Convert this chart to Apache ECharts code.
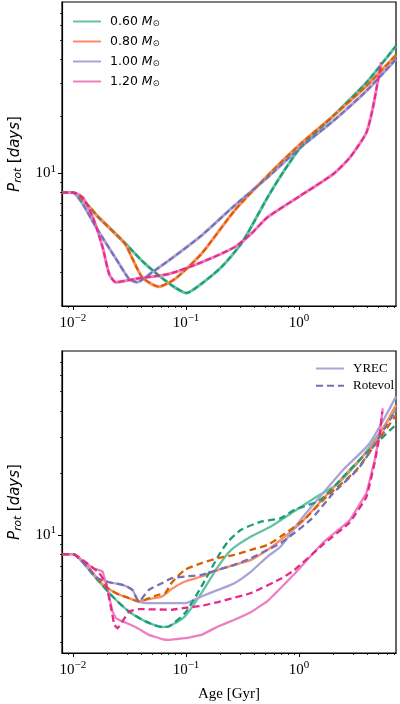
<!DOCTYPE html>
<html>
<head>
    <meta charset="UTF-8">
    <title>Prot vs Age</title>
    <script src="https://cdn.jsdelivr.net/npm/echarts@6/dist/echarts.min.js"></script>
</head>
<body style="margin: 0; background: #fff">
    <div id="container" style="width: 400px; height: 704px"></div>
    <script type="text/javascript">
        // ---- data: [age (Gyr), Prot (days)] ----
        // top panel (solid YREC and dashed Rotevol lie on top of each other)
        var topM060 = [[0.008, 7.94], [0.01, 7.94], [0.0171, 5.81], [0.0293, 4.25], [0.041, 3.45], [0.0573, 2.9], [0.0801, 2.5], [0.101, 2.34], [0.137, 2.62], [0.205, 3.2], [0.307, 4.25], [0.376, 5.2], [0.526, 7.47], [0.735, 10.3], [1.03, 13.7], [2.01, 20.1], [3.94, 30.1], [7.2, 47]];
        var topM080 = [[0.008, 7.94], [0.01, 7.94], [0.0171, 5.81], [0.0256, 4.6], [0.0293, 4.2], [0.041, 2.83], [0.0573, 2.53], [0.0801, 2.78], [0.137, 3.77], [0.268, 6.36], [0.526, 9.72], [1.03, 14.3], [2.01, 20.1], [3.94, 28.9], [7.2, 42]];
        var topM100 = [[0.008, 7.94], [0.01, 7.94], [0.0122, 6.9], [0.016, 5.2], [0.0256, 3.34], [0.0313, 2.78], [0.037, 2.67], [0.0501, 3.01], [0.0702, 3.47], [0.137, 4.7], [0.268, 6.76], [0.526, 9.52], [1.03, 13.7], [2.01, 18.9], [3.94, 27.2], [7.2, 40]];
        var topM120 = [[0.008, 7.94], [0.01, 7.94], [0.0122, 7.47], [0.015, 5.87], [0.0183, 4.08], [0.0209, 2.95], [0.0239, 2.67], [0.0358, 2.78], [0.0702, 2.95], [0.137, 3.4], [0.268, 4.08], [0.376, 4.8], [0.526, 5.87], [1.03, 7.63], [2.01, 9.93], [2.81, 12.1], [3.94, 16.4], [4.5, 22.2], [4.98, 30.8], [5.33, 38.4]];

        // bottom panel, YREC (solid)
        var yrecM060 = [[0.008, 8.05], [0.01, 8.05], [0.016, 6.15], [0.0224, 5.0], [0.0313, 4.22], [0.0438, 3.78], [0.0613, 3.55], [0.0702, 3.57], [0.098, 4.0], [0.137, 5.2], [0.192, 7.0], [0.251, 8.45], [0.376, 9.81], [0.562, 10.98], [0.899, 13.0], [1.44, 15.4], [2.15, 17.6], [3.45, 23.2], [7.2, 41]];
        var yrecM080 = [[0.008, 8.05], [0.01, 8.05], [0.0183, 5.75], [0.0239, 5.2], [0.0313, 4.91], [0.0383, 4.73], [0.0469, 4.86], [0.0613, 5.0], [0.075, 5.45], [0.098, 5.92], [0.137, 6.26], [0.192, 6.75], [0.268, 7.14], [0.376, 7.55], [0.526, 8.45], [0.688, 9.45], [1.03, 11.4], [1.54, 14.5], [2.635, 20.0], [4.5, 27.5], [7.2, 43]];
        var yrecM100 = [[0.008, 8.05], [0.01, 8.05], [0.016, 6.2], [0.0209, 5.87], [0.0274, 5.7], [0.0335, 5.39], [0.0383, 4.73], [0.0501, 4.64], [0.0655, 4.64], [0.098, 4.64], [0.137, 5.0], [0.192, 5.39], [0.268, 5.81], [0.376, 6.62], [0.526, 7.84], [0.688, 8.77], [1.03, 11.83], [1.54, 15.4], [2.46, 20.8], [4.21, 28.0], [7.2, 47.3]];
        var yrecM120 = [[0.008, 8.05], [0.01, 8.05], [0.015, 6.88], [0.0183, 6.62], [0.0209, 5.0], [0.0224, 4.22], [0.0239, 3.93], [0.0274, 3.78], [0.0358, 3.55], [0.0469, 3.25], [0.0613, 3.1], [0.0702, 3.07], [0.098, 3.13], [0.137, 3.25], [0.192, 3.57], [0.268, 3.85], [0.376, 4.2], [0.526, 4.75], [0.688, 5.5], [0.899, 6.4], [1.64, 9.2], [2.81, 11.8], [3.94, 16.0], [4.66, 23.2], [5.155, 31.3], [5.5, 41.5]];

        // bottom panel, Rotevol (dashed)
        var rotM060 = [[0.008, 8.05], [0.01, 8.05], [0.016, 6.15], [0.0224, 5.0], [0.0313, 4.22], [0.0438, 3.78], [0.0613, 3.55], [0.0702, 3.57], [0.098, 4.15], [0.137, 5.6], [0.192, 7.84], [0.235, 9.27], [0.307, 10.58], [0.46, 11.6], [0.688, 12.06], [0.899, 13.2], [1.54, 14.8], [2.635, 20.0], [4.5, 27.0], [7.2, 34.5]];
        var rotM080 = [[0.008, 8.05], [0.01, 8.05], [0.0183, 5.75], [0.0239, 5.2], [0.0313, 4.91], [0.0383, 4.73], [0.0469, 4.9], [0.0573, 5.1], [0.0655, 5.2], [0.075, 5.85], [0.098, 6.75], [0.137, 7.28], [0.192, 7.7], [0.268, 7.98], [0.376, 8.45], [0.526, 8.94], [0.688, 9.81], [1.1, 11.83], [1.76, 15.4], [3.22, 20.8], [7.2, 38.5]];
        var rotM100 = [[0.008, 8.05], [0.01, 8.05], [0.016, 6.2], [0.0209, 5.87], [0.0274, 5.7], [0.0335, 5.39], [0.0383, 4.73], [0.0469, 5.39], [0.0613, 5.81], [0.075, 6.15], [0.098, 6.26], [0.137, 6.38], [0.192, 6.75], [0.268, 7.14], [0.376, 7.7], [0.526, 8.45], [0.688, 9.11], [1.26, 11.83], [2.01, 16.0], [3.45, 21.5], [7.2, 40.7]];
        var rotM120 = [[0.008, 8.05], [0.01, 8.05], [0.014, 7.14], [0.0171, 6.5], [0.0196, 5.81], [0.0216, 4.47], [0.0232, 3.64], [0.0248, 3.5], [0.0274, 3.78], [0.0313, 4.22], [0.0383, 4.34], [0.075, 4.31], [0.098, 4.4], [0.137, 4.5], [0.192, 4.7], [0.376, 5.2], [0.688, 6.1], [0.899, 6.7], [1.64, 9.0], [2.81, 11.5], [3.94, 15.3], [4.66, 22.5], [5.155, 30.5], [5.44, 40]];

        var massNames = ['0.60', '0.80', '1.00', '1.20'];
        var lightColors = ['#66c2a5', '#fc8d62', '#a9a3d6', '#ec7fc1'];
        var darkColors = ['#1b9e77', '#d95f02', '#7570b3', '#e7298a'];

        var xMajor = [0.01, 0.1, 1];
        var xMinor = [0.009, 0.02, 0.03, 0.04, 0.05, 0.06, 0.07, 0.08, 0.09, 0.2, 0.3, 0.4, 0.5, 0.6, 0.7, 0.8, 0.9, 2, 3, 4, 5, 6, 7];
        var yMajor = [10];
        var yMinor = [3, 4, 5, 6, 7, 8, 9, 20, 30, 40, 50, 60, 70];

        var topData = [topM060, topM080, topM100, topM120];
        var yrecData = [yrecM060, yrecM080, yrecM100, yrecM120];
        var rotData = [rotM060, rotM080, rotM100, rotM120];

        var serif = 'Liberation Serif';
        var sans = 'DejaVu Sans';

        function powLabel(v) {
            var e = Math.round(Math.log10(v));
            return '10{sup|' + (e < 0 ? '\u2212' + (-e) : e) + '}';
        }
        var tickRich = {
            sup: { fontSize: 11, fontFamily: serif, color: '#000', padding: [0, 0, 9, 0] }
        };

        function majorX(grid, extra) {
            return Object.assign({
                type: 'log', gridIndex: grid, min: 0.008, max: 7.2, position: 'bottom',
                axisLine: { show: true, lineStyle: { color: '#000', width: 1.2 } },
                axisTick: { show: true, length: 4, customValues: xMajor, lineStyle: { color: '#000', width: 1 } },
                axisLabel: {
                    customValues: xMajor, margin: 7, formatter: powLabel,
                    fontFamily: serif, fontSize: 15, color: '#000', rich: tickRich
                },
                splitLine: { show: false }
            }, extra || {});
        }
        function minorX(grid) {
            return {
                type: 'log', gridIndex: grid, min: 0.008, max: 7.2, position: 'bottom',
                axisLine: { show: false },
                axisTick: { show: true, length: 2, customValues: xMinor, lineStyle: { color: '#000', width: 0.8 } },
                axisLabel: { show: false }, splitLine: { show: false }
            };
        }
        function majorY(grid, lo, hi) {
            return {
                type: 'log', gridIndex: grid, min: lo, max: hi, position: 'left',
                name: '{i|P}{sub|rot} [{i|days}]',
                nameLocation: 'middle', nameGap: 38, nameRotate: 90,
                nameTextStyle: {
                    fontFamily: sans, fontSize: 15, color: '#000',
                    rich: {
                        i: { fontFamily: sans, fontStyle: 'italic', fontSize: 15, color: '#000' },
                        sub: { fontFamily: sans, fontStyle: 'italic', fontSize: 10.5, color: '#000', padding: [6, 0, 0, 0] }
                    }
                },
                axisLine: { show: true, lineStyle: { color: '#000', width: 1.2 } },
                axisTick: { show: true, length: 4, customValues: yMajor, lineStyle: { color: '#000', width: 1 } },
                axisLabel: {
                    customValues: yMajor, margin: 6, formatter: powLabel,
                    fontFamily: serif, fontSize: 15, color: '#000', rich: tickRich
                },
                splitLine: { show: false }
            };
        }
        function minorY(grid, lo, hi) {
            return {
                type: 'log', gridIndex: grid, min: lo, max: hi, position: 'left',
                axisLine: { show: false },
                axisTick: { show: true, length: 2, customValues: yMinor, lineStyle: { color: '#000', width: 0.8 } },
                axisLabel: { show: false }, splitLine: { show: false }
            };
        }

        function lineSeries(name, xi, d, color, width, dash, smooth) {
            return {
                name: name, type: 'line', xAxisIndex: xi, yAxisIndex: xi,
                data: d, smooth: smooth == null ? 0.2 : smooth, symbol: 'none',
                lineStyle: { color: color, width: width, type: dash || 'solid' },
                itemStyle: { color: color }
            };
        }

        var series = [];
        // top panel: light solid under dark dashed
        topData.forEach(function (d, i) {
            series.push(lineSeries(massNames[i], 0, d, lightColors[i], 3));
        });
        topData.forEach(function (d, i) {
            series.push(lineSeries(massNames[i] + ' rotevol', 0, d, darkColors[i], 2, [6, 3]));
        });
        // bottom panel (the 1.20 tracks bend sharply, so smooth them less)
        yrecData.forEach(function (d, i) {
            series.push(lineSeries('yrec ' + massNames[i], 2, d, lightColors[i], 2.3, null, i === 3 ? 0.05 : 0.2));
        });
        rotData.forEach(function (d, i) {
            series.push(lineSeries('rot ' + massNames[i], 2, d, darkColors[i], 2.3, [7, 4], i === 3 ? 0.08 : 0.2));
        });
        // legend entries for the bottom panel
        series.push(lineSeries('YREC', 2, [], lightColors[2], 2.6));
        series.push(lineSeries('Rotevol', 2, [], darkColors[2], 2.6, [7, 4]));

        var myChart = echarts.init(document.getElementById('container'));
        var option = {
            animation: false,
            backgroundColor: '#fff',
            grid: [
                { left: 59, top: 2, width: 337, height: 304, show: true, borderColor: '#000', borderWidth: 1.2 },
                { left: 59, top: 351, width: 337, height: 302, show: true, borderColor: '#000', borderWidth: 1.2 }
            ],
            xAxis: [
                majorX(0),
                minorX(0),
                majorX(1, {
                    name: 'Age [Gyr]', nameLocation: 'middle', nameGap: 34,
                    nameTextStyle: { fontFamily: serif, fontSize: 15, color: '#000' }
                }),
                minorX(1)
            ],
            yAxis: [
                majorY(0, 2, 80),
                minorY(0, 2, 80),
                majorY(1, 2.65, 79),
                minorY(1, 2.65, 79)
            ],
            legend: [
                {
                    data: massNames, orient: 'vertical', left: 67, top: 10,
                    itemWidth: 28, itemHeight: 14, itemGap: 6.5,
                    itemStyle: { opacity: 0 },
                    formatter: function (name) { return name + ' {i|M}{s|\u2299}'; },
                    textStyle: {
                        fontFamily: sans, fontSize: 12.5, color: '#000', padding: [0, 0, 0, 4],
                        rich: {
                            i: { fontFamily: sans, fontStyle: 'italic', fontSize: 12.5, color: '#000' },
                            s: { fontFamily: sans, fontSize: 8.5, color: '#000', padding: [5, 0, 0, 0] }
                        }
                    }
                },
                {
                    data: ['YREC', 'Rotevol'], orient: 'vertical', left: 310, top: 357,
                    itemWidth: 28, itemHeight: 14, itemGap: 4.3,
                    itemStyle: { opacity: 0 },
                    textStyle: { fontFamily: serif, fontSize: 13, color: '#000', padding: [0, 0, 0, 4] }
                }
            ],
            series: series
        };
        myChart.setOption(option);
    </script>
</body>
</html>
